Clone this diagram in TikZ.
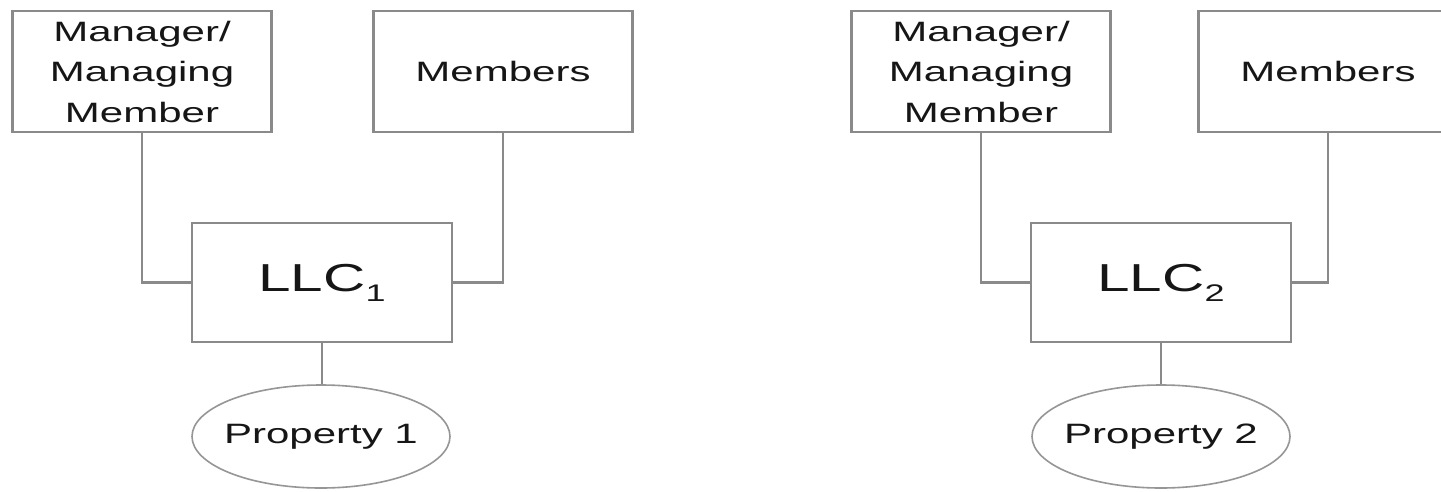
\documentclass[tikz,border=0pt]{standalone}
\usepackage{fontspec}
\usepackage{graphicx}
\setmainfont{Liberation Sans}
\usetikzlibrary{shapes.geometric}

% horizontally widened text
\newcommand\wide[1]{\scalebox{1.5}[1]{#1}}
\newcommand\llcsub[1]{\raisebox{-10pt}{\fontsize{24}{24}\selectfont #1}}

\definecolor{edgegray}{HTML}{8A8A8A}
\definecolor{ringgray}{HTML}{969696}
\definecolor{inkgray}{HTML}{161616}

\tikzset{
  x=1pt, y=-1pt,
  party/.style={draw=edgegray, line width=2.6pt, rectangle, inner sep=0pt,
    minimum width=259pt, minimum height=121pt, align=center,
    text=inkgray, font=\fontsize{28}{40.5}\selectfont},
  company/.style={draw=edgegray, line width=2.6pt, rectangle, inner sep=0pt,
    minimum width=260pt, minimum height=119pt,
    text=inkgray, font=\fontsize{39}{39}\selectfont},
  asset/.style={draw=ringgray, line width=1.6pt, ellipse, inner xsep=-10pt, inner ysep=0pt,
    minimum width=258pt, minimum height=103pt,
    text=inkgray, font=\fontsize{28}{28}\selectfont},
  link/.style={draw=edgegray, line width=2.6pt},
}

\begin{document}
\begin{tikzpicture}
\clip (0,0) rectangle (1441,491);
\fill[white] (0,0) rectangle (1441,491);

% first structure
\node[party] (mgrA) at (142,71.5) {\wide{Manager/}\\\wide{Managing}\\\wide{Member}};
\node[party] (memA) at (503,71.5) {\wide{Members}};
\node[company] (llcA) at (322,282.5) {\wide{LLC\llcsub{1}}};
\node[asset] (propA) at (321,436.5) {\wide{Property 1}};

\draw[link] (mgrA.south) |- (llcA.west);
\draw[link] (memA.south) |- (llcA.east);
\draw[link] (llcA.south) -- (llcA.south |- propA.north);

% second structure
\node[party] (mgrB) at (981,71.5) {\wide{Manager/}\\\wide{Managing}\\\wide{Member}};
\node[party] (memB) at (1328,71.5) {\wide{Members}};
\node[company] (llcB) at (1161,282.5) {\wide{LLC\llcsub{2}}};
\node[asset] (propB) at (1161,436.5) {\wide{Property 2}};

\draw[link] (mgrB.south) |- (llcB.west);
\draw[link] (memB.south) |- (llcB.east);
\draw[link] (llcB.south) -- (propB.north);
\end{tikzpicture}
\end{document}
